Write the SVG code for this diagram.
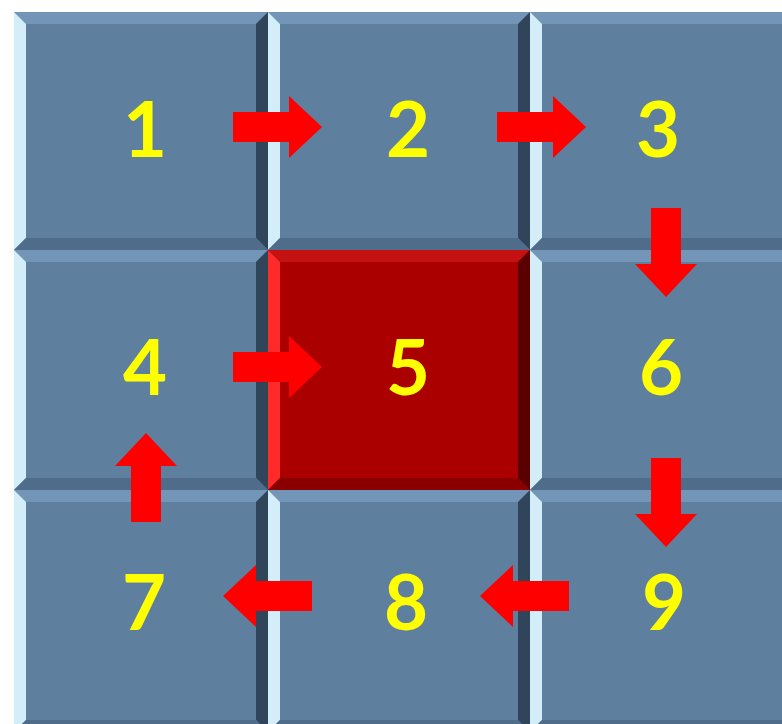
<svg xmlns="http://www.w3.org/2000/svg" width="782" height="724" viewBox="0 0 782 724">
<style>
.face{fill:#5f7f9e}
.top{fill:#7396b8}
.left{fill:#d4eef9}
.right{fill:#30455a}
.bot{fill:#4f6d8b}
.rface{fill:#aa0000}
.rtop{fill:#c41212}
.rleft{fill:#ff2a2a}
.rright{fill:#5a0000}
.rbot{fill:#8a0000}
.num{font-family:Lato,"Open Sans",sans-serif;font-weight:700;font-size:76px;fill:#ffff00;text-anchor:middle}
.arrow{fill:#ff0000}
</style>
<defs>
<path id="arr" d="M0,-15 H56 V-31 L89,0 L56,31 V15 H0 Z"/>
</defs>
<rect width="782" height="724" fill="#ffffff"/>
<g id="tile1">
<rect class="face" x="14" y="12" width="254" height="238"/>
<polygon class="top" points="14,12 268,12 256,24 26,24"/>
<polygon class="left" points="14,12 26,24 26,238 14,250"/>
<polygon class="right" points="268,12 268,250 256,238 256,24"/>
<polygon class="bot" points="14,250 268,250 256,238 26,238"/>
<text class="num" x="145" y="157">1</text>
</g>
<g id="tile2">
<rect class="face" x="268" y="12" width="262" height="238"/>
<polygon class="top" points="268,12 530,12 518,24 280,24"/>
<polygon class="left" points="268,12 280,24 280,238 268,250"/>
<polygon class="right" points="530,12 530,250 518,238 518,24"/>
<polygon class="bot" points="268,250 530,250 518,238 280,238"/>
<text class="num" x="408" y="157">2</text>
</g>
<g id="tile3">
<rect class="face" x="530" y="12" width="266" height="238"/>
<polygon class="top" points="530,12 796,12 784,24 542,24"/>
<polygon class="left" points="530,12 542,24 542,238 530,250"/>
<polygon class="bot" points="530,250 796,250 784,238 542,238"/>
<text class="num" x="658" y="157">3</text>
</g>
<g id="tile4">
<rect class="face" x="14" y="250" width="254" height="240"/>
<polygon class="top" points="14,250 268,250 256,262 26,262"/>
<polygon class="left" points="14,250 26,262 26,478 14,490"/>
<polygon class="right" points="268,250 268,490 256,478 256,262"/>
<polygon class="bot" points="14,490 268,490 256,478 26,478"/>
<text class="num" x="145" y="395">4</text>
</g>
<g id="tile5">
<rect class="rface" x="268" y="250" width="262" height="240"/>
<polygon class="rtop" points="268,250 530,250 518,262 280,262"/>
<polygon class="rleft" points="268,250 280,262 280,478 268,490"/>
<polygon class="rright" points="530,250 530,490 518,478 518,262"/>
<polygon class="rbot" points="268,490 530,490 518,478 280,478"/>
<text class="num" x="408" y="395">5</text>
</g>
<g id="tile6">
<rect class="face" x="530" y="250" width="266" height="240"/>
<polygon class="top" points="530,250 796,250 784,262 542,262"/>
<polygon class="left" points="530,250 542,262 542,478 530,490"/>
<polygon class="bot" points="530,490 796,490 784,478 542,478"/>
<text class="num" x="661" y="395">6</text>
</g>
<g id="tile7">
<rect class="face" x="14" y="490" width="254" height="242"/>
<polygon class="top" points="14,490 268,490 256,502 26,502"/>
<polygon class="left" points="14,490 26,502 26,720 14,732"/>
<polygon class="right" points="268,490 268,732 256,720 256,502"/>
<polygon class="bot" points="14,732 268,732 256,720 26,720"/>
<text class="num" x="144" y="630">7</text>
</g>
<g id="tile8">
<rect class="face" x="268" y="490" width="262" height="242"/>
<polygon class="top" points="268,490 530,490 518,502 280,502"/>
<polygon class="left" points="268,490 280,502 280,720 268,732"/>
<polygon class="right" points="530,490 530,732 518,720 518,502"/>
<polygon class="bot" points="268,732 530,732 518,720 280,720"/>
<text class="num" x="406" y="630">8</text>
</g>
<g id="tile9">
<rect class="face" x="530" y="490" width="266" height="242"/>
<polygon class="top" points="530,490 796,490 784,502 542,502"/>
<polygon class="left" points="530,490 542,502 542,720 530,732"/>
<polygon class="bot" points="530,732 796,732 784,720 542,720"/>
<text class="num" x="664" y="630">9</text>
</g>
<g id="connectors" class="arrow">
<use href="#arr" transform="translate(233,127)"/>
<use href="#arr" transform="translate(497,127)"/>
<use href="#arr" transform="translate(666,208) rotate(90)"/>
<use href="#arr" transform="translate(233,367)"/>
<use href="#arr" transform="translate(666,458) rotate(90)"/>
<use href="#arr" transform="translate(569,596) rotate(180)"/>
<use href="#arr" transform="translate(312,596) rotate(180)"/>
<use href="#arr" transform="translate(146,522) rotate(-90)"/>
</g>
</svg>
